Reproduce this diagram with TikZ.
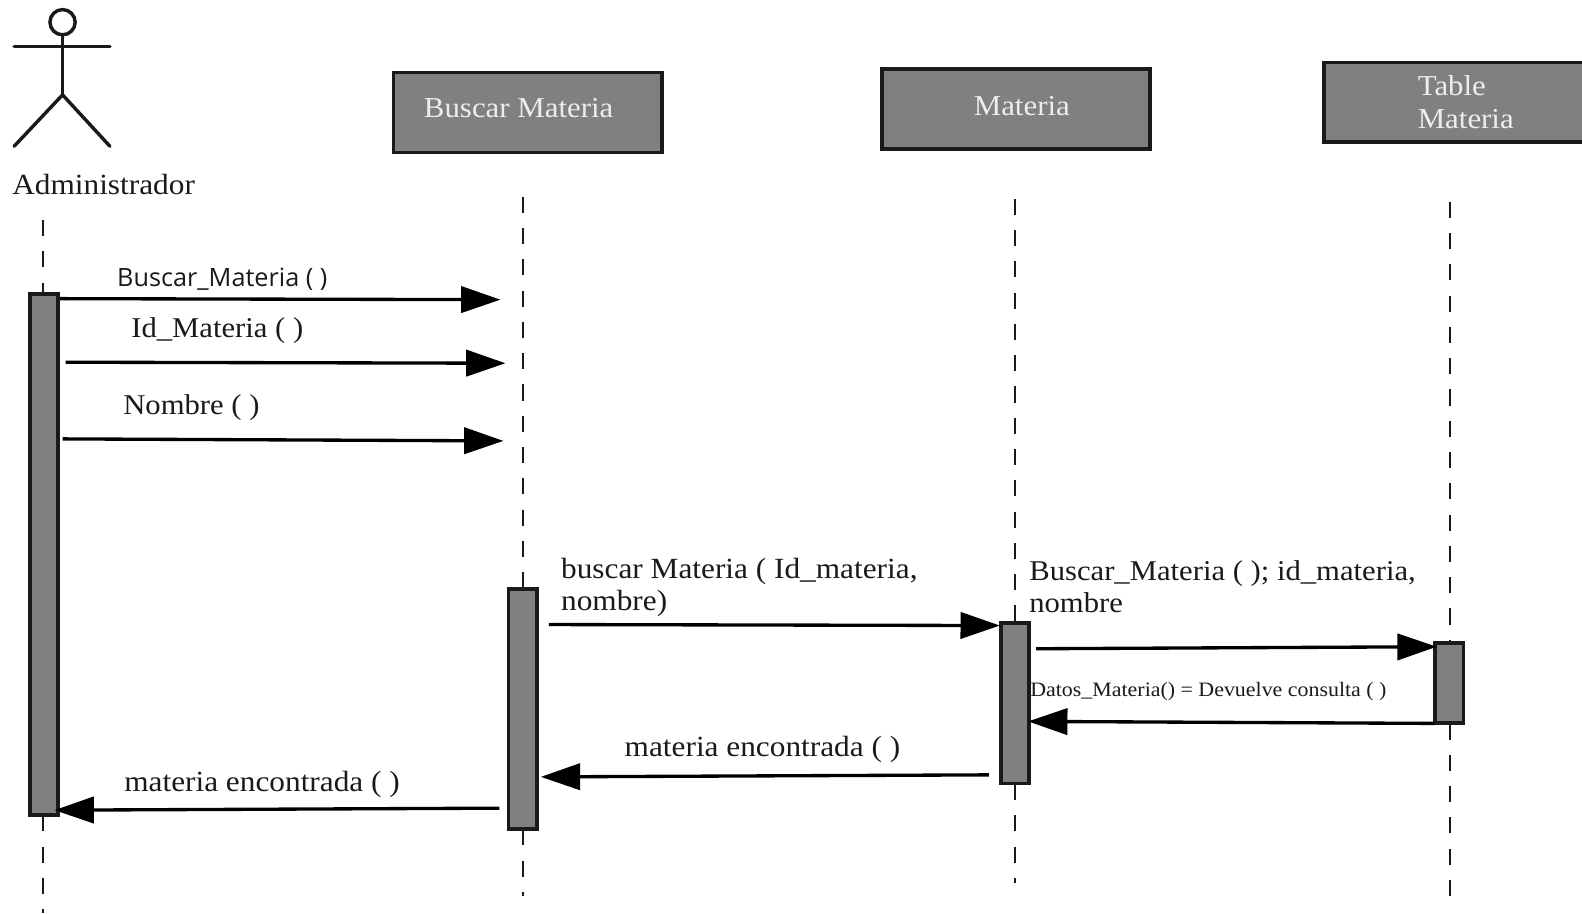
\documentclass[tikz,border=0pt]{standalone}
\usepackage{fontspec}
\setmainfont[FakeStretch=1.07]{Liberation Serif}
\setsansfont{Open Sans}
\usetikzlibrary{arrows.meta}
\definecolor{boxgray}{HTML}{808080}
\definecolor{boxtext}{HTML}{EDEDED}
\definecolor{ink}{HTML}{1A1A1A}
\tikzset{
  lifebox/.style={draw=ink,fill=boxgray,line width=3.6pt,rectangle,inner sep=0pt},
  activebar/.style={draw=ink,fill=boxgray,line width=3.6pt,rectangle,inner sep=0pt,minimum width=28pt},
  lifeline/.style={draw=ink,line width=2pt,dash pattern=on 16pt off 15pt},
  msg/.style={draw=black,line width=3.3pt,-{Triangle[length=39pt,width=26pt]}},
  stick/.style={draw=ink,line width=3.4pt,line cap=round},
  lab/.style={anchor=base west,inner sep=0pt,text=ink,font=\fontsize{29}{32}\selectfont},
  labn/.style={lab,font=\fontsize{28.4}{32}\selectfont},
  boxlab/.style={anchor=base west,inner sep=0pt,text=boxtext,font=\fontsize{28.6}{32}\selectfont},
}
\begin{document}
\begin{tikzpicture}[x=1pt,y=-1pt]
\useasboundingbox (0,0) rectangle (1568,905);
\fill[white] (0,0) rectangle (1568,905);
% lifelines (behind bars)
\coordinate (l1a) at (43,218); \coordinate (l1b) at (43,291);
\coordinate (l1c) at (43,808); \coordinate (l1d) at (43,905);
\coordinate (l2a) at (518,195); \coordinate (l2b) at (518,583);
\coordinate (l2c) at (518,822); \coordinate (l2d) at (518,888);
\coordinate (l3a) at (1006,197); \coordinate (l3b) at (1006,617);
\coordinate (l3c) at (1006,777); \coordinate (l3d) at (1006,875);
\coordinate (l4a) at (1437,200); \coordinate (l4b) at (1437,637);
\coordinate (l4c) at (1437,717); \coordinate (l4d) at (1437,890);
\foreach \a/\b in {l1a/l1b,l1c/l1d,l2a/l2b,l2c/l2d,l3a/l3b,l3c/l3d,l4a/l4b,l4c/l4d}
  \draw[lifeline] (\a) -- (\b);
% actor
\node[draw=ink,line width=3.4pt,circle,minimum size=25pt,inner sep=0pt] (head) at (62,22) {};
\coordinate (armL) at (14,46); \coordinate (armR) at (109,46);
\coordinate (hip) at (62,94); \coordinate (legL) at (14,145); \coordinate (legR) at (109,145);
\draw[stick] (head.south) -- (hip);
\draw[stick] (armL) -- (armR);
\draw[stick] (legL) -- (hip) -- (legR);
\node[lab] (actorlab) at (12,193) {Administrador};
% header boxes
\node[lifebox,minimum width=266pt,minimum height=79pt] (bmbox) at (523,111.5) {};
\node[lifebox,minimum width=266pt,minimum height=79pt] (mbox) at (1007,108) {};
\node[lifebox,minimum width=267pt,minimum height=79pt] (tbox) at (1445.5,101.5) {};
\node[boxlab] (bmlab) at (420,116) {Buscar Materia};
\node[boxlab] (mlab) at (965,114) {Materia};
\node[boxlab] (tlab1) at (1405,95) {Table};
\node[boxlab] (tlab2) at (1405,127) {Materia};
% activation bars
\node[activebar,minimum height=516pt] (ba) at (43.5,549.5) {};
\node[activebar,minimum height=238pt] (bb) at (518,702.5) {};
\node[activebar,minimum height=159pt] (bc) at (1006,697) {};
\node[activebar,minimum height=79pt] (bd) at (1436.5,677) {};
% message end points
\coordinate (m1s) at (59,296);   \coordinate (m1e) at (496,297);
\coordinate (m2s) at (65,359);   \coordinate (m2e) at (501,360);
\coordinate (m3s) at (62,435);   \coordinate (m3e) at (499,437);
\coordinate (m4s) at (544,619);  \coordinate (m4e) at (991,620);
\coordinate (m5s) at (1027,643); \coordinate (m5e) at (1424,641);
\coordinate (m6s) at (1422,717); \coordinate (m6e) at (1019,715);
\coordinate (m7s) at (980,768);  \coordinate (m7e) at (536,770);
\coordinate (m8s) at (495,801);  \coordinate (m8e) at (54,803);
\foreach \a/\b in {m1s/m1e,m2s/m2e,m3s/m3e,m4s/m4e,m5s/m5e,m6s/m6e,m7s/m7e,m8s/m8e}
  \draw[msg] (\a) -- (\b);
% labels
\node[lab,font=\sffamily\fontsize{25}{28}\selectfont] (t1) at (116,284) {Buscar\_Materia ( )};
\node[labn] (t2) at (130,335) {Id\_Materia ( )};
\node[labn] (t3) at (122,411) {Nombre ( )};
\node[lab] (t4a) at (556,573) {buscar Materia ( Id\_materia,};
\node[lab] (t4b) at (556,605) {nombre)};
\node[labn] (t5a) at (1020,575) {Buscar\_Materia ( ); id\_materia,};
\node[labn] (t5b) at (1020,607) {nombre};
\node[lab,font=\fontsize{20.3}{22}\selectfont] (t6) at (1021,690) {Datos\_Materia() = Devuelve consulta ( )};
\node[lab] (t7) at (619,750) {materia encontrada ( )};
\node[lab] (t8) at (123,784) {materia encontrada ( )};
\end{tikzpicture}
\end{document}
